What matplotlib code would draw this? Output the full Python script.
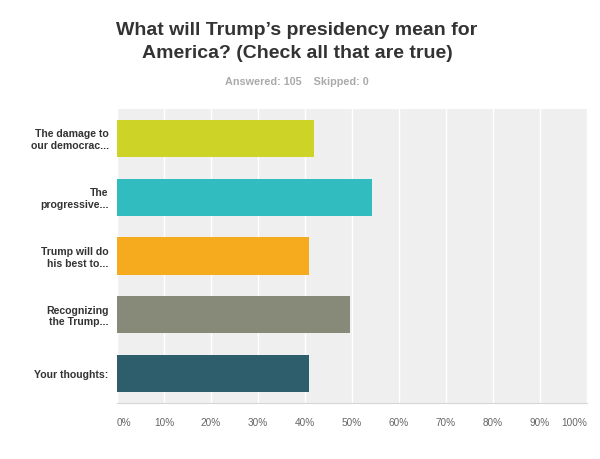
import matplotlib.pyplot as plt
import numpy as np

# data (105 answered)
categories = ["The damage to\nour democrac...", "The\nprogressive...",
              "Trump will do\nhis best to...", "Recognizing\nthe Trump...",
              "Your thoughts:"]
percents = [41.9, 54.3, 40.95, 49.5, 40.95]
bar_colors = ["#cdd327", "#31bdbf", "#f6ab1e", "#878a79", "#2e5e6b"]
tick_labels = ["0%", "10%", "20%", "30%", "40%", "50%", "60%", "70%", "80%", "90%", "100%"]

plt.rcParams['font.family'] = ['Liberation Sans', 'DejaVu Sans']

fig = plt.figure(figsize=(6, 4.59), dpi=100)
ax = fig.add_axes([0.195, 0.122, 0.783, 0.6405])
ax.set_facecolor("#efefef")

y = np.arange(len(categories))
ax.barh(y, percents, height=0.63, color=bar_colors, zorder=3)

ax.set_xlim(0, 100)
ax.set_ylim(len(categories) - 0.5, -0.5)
ax.set_xticks(np.arange(0, 101, 10))
ax.set_xticklabels(tick_labels, fontsize=7.2, color="#666666")
ax.set_yticks(y)
ax.set_yticklabels(categories, fontsize=7.6, fontweight="bold", color="#333333",
                   linespacing=1.2)
ax.tick_params(length=0, axis="x", pad=11)
ax.tick_params(length=0, axis="y", pad=6)
ax.grid(axis="x", color="white", lw=1, zorder=1)
for s in ["top", "right", "left"]:
    ax.spines[s].set_visible(False)
ax.spines["bottom"].set_color("#d6d6d6")

# edge tick labels sit inside the plot like the original
lbls = ax.get_xticklabels()
lbls[0].set_horizontalalignment("left")
lbls[-1].set_horizontalalignment("right")

fig.text(0.495, 0.908, "What will Trump\u2019s presidency mean for\nAmerica? (Check all that are true)",
         ha="center", va="center", fontsize=14, fontweight="bold", color="#333333",
         linespacing=1.45)
fig.text(0.495, 0.821, "Answered: 105    Skipped: 0", ha="center", va="center",
         fontsize=7.8, fontweight="bold", color="#aaaaaa")

fig.savefig("out.png", dpi=100)
